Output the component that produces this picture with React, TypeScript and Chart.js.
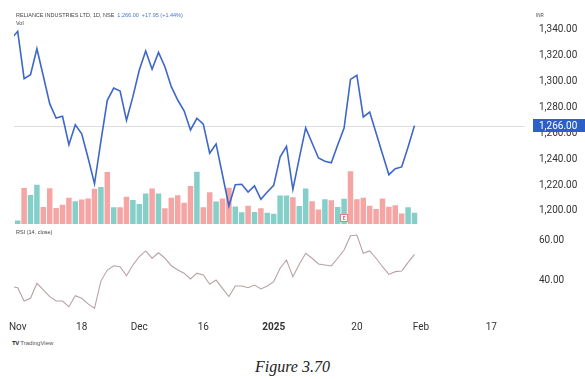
import React, { useEffect, useRef } from 'react';
import { Chart, registerables } from 'chart.js';

Chart.register(...registerables);

// Trading days shown (first one is partly cut off on the left)
const dates = [
  '2024-10-31',
  '2024-11-01', '2024-11-04', '2024-11-05', '2024-11-06', '2024-11-07', '2024-11-08',
  '2024-11-11', '2024-11-12', '2024-11-13', '2024-11-14', '2024-11-18', '2024-11-19',
  '2024-11-21', '2024-11-22', '2024-11-25', '2024-11-26', '2024-11-27', '2024-11-28', '2024-11-29',
  '2024-12-02', '2024-12-03', '2024-12-04', '2024-12-05', '2024-12-06', '2024-12-09',
  '2024-12-10', '2024-12-11', '2024-12-12', '2024-12-13', '2024-12-16', '2024-12-17',
  '2024-12-18', '2024-12-19', '2024-12-20', '2024-12-23', '2024-12-24', '2024-12-26',
  '2024-12-27', '2024-12-30', '2024-12-31',
  '2025-01-01', '2025-01-02', '2025-01-03', '2025-01-06', '2025-01-07', '2025-01-08',
  '2025-01-09', '2025-01-10', '2025-01-13', '2025-01-14', '2025-01-15', '2025-01-16',
  '2025-01-17', '2025-01-20', '2025-01-21', '2025-01-22', '2025-01-23', '2025-01-24',
  '2025-01-27', '2025-01-28', '2025-01-29', '2025-01-30', '2025-01-31',
];

const closes = [
  1333.2,
  1339.0, 1302.3, 1305.4, 1325.5, 1304.4, 1283.0, 1271.9, 1273.2, 1251.2, 1266.7,
  1259.7, 1240.9, 1221.0, 1254.0, 1285.6, 1295.1, 1292.8, 1270.1, 1288.4,
  1309.0, 1323.7, 1309.6, 1322.7, 1311.6, 1296.1, 1285.8, 1277.5, 1262.6, 1271.7,
  1267.2, 1244.6, 1251.8, 1227.8, 1203.8, 1220.3, 1220.6, 1214.6, 1219.3, 1209.0, 1214.6,
  1219.8, 1241.7, 1250.0, 1216.7, 1240.9, 1264.2, 1252.5, 1240.9, 1238.4, 1237.3,
  1251.0, 1264.1, 1301.8, 1304.9, 1272.7, 1276.5, 1260.3, 1244.0, 1228.0, 1232.6,
  1234.0, 1249.4, 1266.0,
];

// volume in millions of shares
const volumes = [
  12.0,
  1.4, 14.4, 11.6, 15.7, 6.8, 14.3, 6.4, 7.7, 10.5, 9.1,
  9.8, 10.2, 14.1, 14.8, 20.8, 6.7, 6.7, 10.9, 9.6,
  8.0, 12.2, 14.2, 12.2, 6.3, 10.5, 11.5, 8.5, 15.2, 20.9,
  6.7, 12.7, 9.0, 10.2, 14.5, 7.0, 4.7, 7.3, 4.8, 6.3, 4.5,
  4.1, 11.4, 11.4, 10.7, 7.2, 14.2, 9.1, 5.8, 9.9, 9.5,
  6.8, 10.1, 21.1, 9.9, 10.5, 7.3, 6.0, 10.2, 6.9, 7.5,
  4.2, 6.7, 4.5,
];

// 1 = close above open (teal), 0 = below (red)
const volumeUp = [
  0,
  1, 0, 1, 1, 0, 0, 0, 0, 0, 1,
  0, 0, 0, 1, 0, 1, 0, 0, 1,
  1, 1, 0, 1, 0, 0, 0, 0, 0, 1,
  0, 0, 1, 0, 0, 1, 1, 0, 1, 0, 1,
  1, 1, 1, 0, 1, 1, 0, 0, 1, 0,
  1, 1, 0, 0, 0, 0, 0, 0, 0, 0,
  0, 1, 1,
];

const rsiValues = [
  36.8,
  36.1, 29.4, 30.8, 38.4, 35.0, 31.6, 29.4, 29.4, 26.5, 32.1,
  30.8, 27.9, 25.7, 39.5, 45.1, 47.3, 46.8, 42.2, 47.7,
  51.9, 54.8, 51.1, 53.9, 51.1, 47.3, 45.1, 43.5, 40.6, 43.5,
  42.6, 37.9, 40.0, 35.8, 31.6, 37.0, 37.0, 36.1, 37.5, 35.5, 37.0,
  39.2, 46.0, 50.2, 41.7, 48.0, 53.6, 51.1, 48.2, 47.7, 47.2,
  51.1, 55.3, 62.5, 62.9, 53.6, 54.8, 51.1, 46.8, 42.9, 44.3,
  44.6, 49.0, 53.1,
];

const xTickIndex = [1, 11, 20, 30, 41, 54, 64, 75];
const xTickLabels = ['Nov', '18', 'Dec', '16', '2025', '20', 'Feb', '17'];
const priceTicks = [1200, 1220, 1240, 1260, 1280, 1300, 1320, 1340];
const rsiTicks = [40, 60];
const earningsIndex = 52;

const PRICE_COLOR = '#3d67c9';
const RSI_COLOR = '#b9a1a3';
const UP_COLOR = '#84cfc8';
const DOWN_COLOR = '#f4a5a4';
const TEXT_COLOR = '#333333';

const fmt = (v: number) =>
  v.toLocaleString('en-US', { minimumFractionDigits: 2, maximumFractionDigits: 2 });

const lastPricePlugin = {
  id: 'lastPrice',
  beforeDatasetsDraw(chart: any) {
    const { ctx, chartArea, scales } = chart;
    const y = Math.round(scales.y.getPixelForValue(closes[closes.length - 1])) + 0.5;
    ctx.save();
    ctx.strokeStyle = '#dedede';
    ctx.lineWidth = 1;
    ctx.beginPath();
    ctx.moveTo(chartArea.left, y);
    ctx.lineTo(chartArea.right, y);
    ctx.stroke();
    ctx.restore();
  },
  afterDraw(chart: any) {
    const { ctx, chartArea, scales, width } = chart;
    const last = closes[closes.length - 1];
    const y = scales.y.getPixelForValue(last);
    ctx.save();
    ctx.fillStyle = '#2d5fc8';
    ctx.fillRect(chartArea.right + 8, Math.round(y - 6.5), width - chartArea.right - 8, 13);
    ctx.fillStyle = '#ffffff';
    ctx.font = '10px Roboto';
    ctx.textBaseline = 'middle';
    ctx.textAlign = 'left';
    ctx.fillText(fmt(last), chartArea.right + 14, y + 0.5);

    // earnings marker
    const ex = scales.x.getPixelForValue(earningsIndex);
    const ey = scales.yVol.getPixelForValue(0) - 6;
    ctx.fillStyle = '#ffffff';
    ctx.strokeStyle = '#e57c7c';
    ctx.lineWidth = 1;
    ctx.fillRect(ex - 3.5, ey - 3.5, 7, 7);
    ctx.strokeRect(ex - 3.5, ey - 3.5, 7, 7);
    ctx.fillStyle = '#d46a6a';
    ctx.font = 'bold 5px Roboto';
    ctx.textAlign = 'center';
    ctx.fillText('E', ex, ey + 0.5);
    ctx.restore();
  },
};

export default function App() {
  const ref = useRef<HTMLCanvasElement>(null);

  useEffect(() => {
    const canvas = ref.current;
    if (!canvas) return;
    const chart = new Chart(canvas, {
      type: 'line',
      data: {
        datasets: [
          {
            type: 'line',
            label: 'Close',
            data: closes.map((c, k) => ({ x: k, y: c })),
            borderColor: PRICE_COLOR,
            borderWidth: 1.6,
            pointRadius: 0,
            tension: 0,
            yAxisID: 'y',
            order: 1,
          },
          {
            type: 'line',
            label: 'RSI',
            data: rsiValues.map((r, k) => ({ x: k, y: r })),
            borderColor: RSI_COLOR,
            borderWidth: 1.1,
            pointRadius: 0,
            tension: 0,
            yAxisID: 'yRsi',
            order: 2,
          },
          {
            type: 'bar',
            label: 'Vol',
            data: volumes.map((v, k) => ({ x: k, y: v })),
            backgroundColor: volumeUp.map((u) => (u ? UP_COLOR : DOWN_COLOR)),
            borderWidth: 0,
            barPercentage: 0.86,
            categoryPercentage: 1,
            yAxisID: 'yVol',
            order: 3,
          } as any,
        ],
      },
      options: {
        animation: false,
        responsive: false,
        devicePixelRatio: 1,
        events: [],
        layout: { padding: { left: 14, top: 27, right: 0, bottom: 0 } },
        plugins: { legend: { display: false }, tooltip: { enabled: false } },
        scales: {
          x: {
            type: 'linear',
            position: 'bottom',
            min: 0.42,
            max: 80.27,
            offset: false,
            grid: { display: false, drawTicks: false },
            border: { display: false },
            afterBuildTicks: (scale: any) => {
              scale.ticks = xTickIndex.map((v) => ({ value: v }));
            },
            afterFit: (scale: any) => {
              scale.height = 27;
            },
            ticks: {
              autoSkip: false,
              maxRotation: 0,
              padding: 8,
              color: TEXT_COLOR,
              font: (ctx: any) => ({
                family: 'Roboto',
                size: 10,
                weight: ctx.tick && ctx.tick.value === 41 ? 'bold' : 'normal',
              }),
              callback: (value: any) => {
                const i = xTickIndex.indexOf(Number(value));
                return i >= 0 ? xTickLabels[i] : '';
              },
            },
          },
          y: {
            type: 'linear',
            position: 'right',
            stack: 'panes',
            stackWeight: 197,
            min: 1189.85,
            max: 1342.32,
            grid: { display: false, drawTicks: false },
            border: { display: false },
            afterBuildTicks: (scale: any) => {
              scale.ticks = priceTicks.map((v) => ({ value: v }));
            },
            afterFit: (scale: any) => {
              scale.width = 60;
            },
            ticks: {
              padding: 14,
              color: TEXT_COLOR,
              font: { family: 'Roboto', size: 10 },
              callback: (value: any) => fmt(Number(value)),
            },
          },
          yRsi: {
            type: 'linear',
            position: 'right',
            stack: 'panes',
            stackWeight: 89,
            min: 23.3,
            max: 68.48,
            grid: { display: false, drawTicks: false },
            border: { display: false },
            afterBuildTicks: (scale: any) => {
              scale.ticks = rsiTicks.map((v) => ({ value: v }));
            },
            afterFit: (scale: any) => {
              scale.width = 60;
            },
            ticks: {
              padding: 14,
              color: TEXT_COLOR,
              font: { family: 'Roboto', size: 10 },
              callback: (value: any) => fmt(Number(value)),
            },
          },
          yVol: {
            type: 'linear',
            position: 'left',
            display: false,
            min: -35.6,
            max: 78.8,
          },
        },
      } as any,
      plugins: [lastPricePlugin],
    });
    return () => chart.destroy();
  }, []);

  const small: React.CSSProperties = {
    position: 'absolute',
    fontFamily: '"Liberation Sans", Arial, sans-serif',
    fontSize: 5.5,
    lineHeight: '7px',
    color: '#444',
    whiteSpace: 'nowrap',
  };

  return (
    <div
      style={{
        position: 'fixed',
        left: 0,
        top: 0,
        width: 585,
        height: 379,
        background: '#ffffff',
        overflow: 'hidden',
      }}
    >
      <canvas ref={ref} width={585} height={340} style={{ position: 'absolute', left: 0, top: 0 }} />
      <div style={{ ...small, left: 16, top: 12 }}>
        RELIANCE INDUSTRIES LTD, 1D, NSE{' '}
        <span style={{ color: '#4a74d0' }}>&nbsp;1,266.00&nbsp; +17.95 (+1.44%)</span>
      </div>
      <div style={{ ...small, left: 16, top: 20 }}>Vol</div>
      <div style={{ ...small, left: 536, top: 12, fontSize: 4.5 }}>INR</div>
      <div style={{ ...small, left: 16, top: 229 }}>RSI (14, close)</div>
      <div style={{ ...small, left: 12, top: 340, fontSize: 6, color: '#555' }}>
        <span style={{ fontWeight: 'bold', color: '#222', letterSpacing: -0.5 }}>TV</span>
        &nbsp;TradingView
      </div>
      <div
        style={{
          position: 'absolute',
          left: 0,
          width: 585,
          top: 357,
          textAlign: 'center',
          fontFamily: '"Liberation Serif", "Times New Roman", serif',
          fontStyle: 'italic',
          fontSize: 16,
          lineHeight: '20px',
          color: '#222',
        }}
      >
        Figure 3.70
      </div>
    </div>
  );
}
